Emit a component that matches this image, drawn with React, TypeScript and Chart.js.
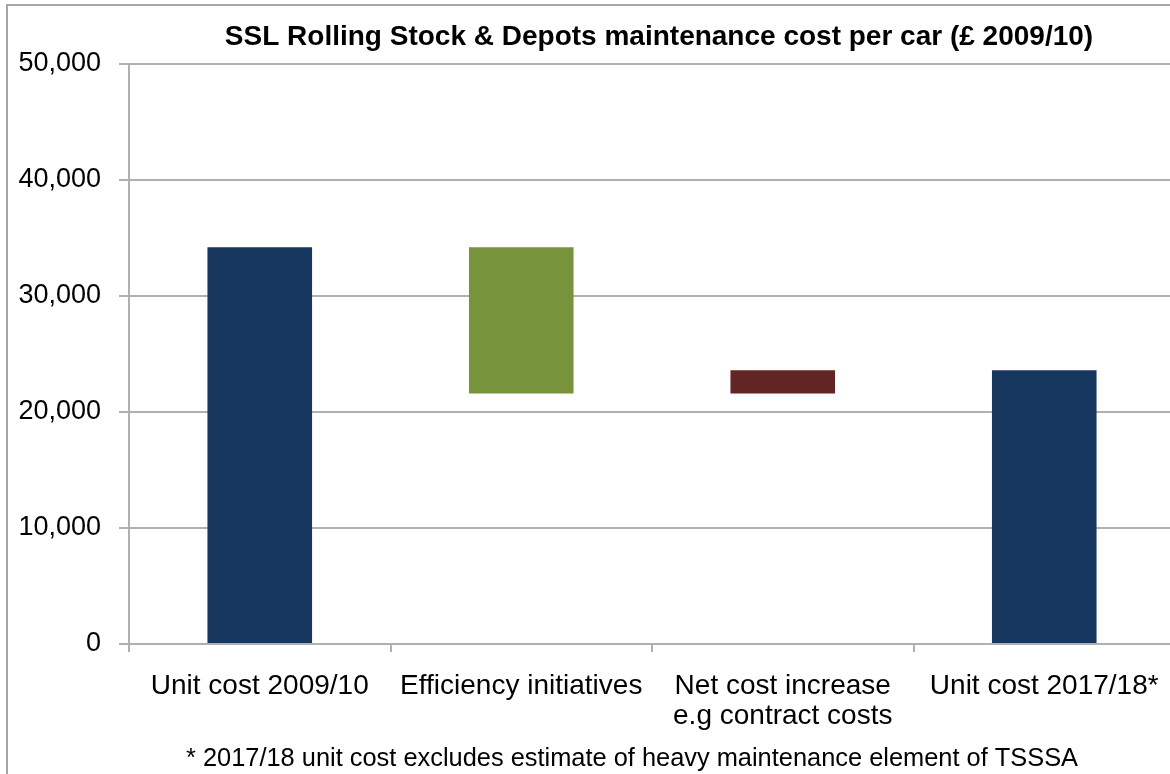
import React, { useEffect, useRef } from "react";
import { Chart, registerables } from "chart.js";

Chart.register(...registerables);

const categories: (string | string[])[] = [
  "Unit cost 2009/10",
  "Efficiency initiatives",
  ["Net cost increase", "e.g contract costs"],
  "Unit cost 2017/18*",
];
const barStarts = [0, 21600, 21600, 0];
const barEnds = [34200, 34200, 23600, 23600];
const barColors = ["#17375E", "#77933C", "#632523", "#17375E"];
const yTicks = [0, 10000, 20000, 30000, 40000, 50000];
const titleText = "SSL Rolling Stock & Depots maintenance cost per car (£ 2009/10)";
const footnoteText = "* 2017/18 unit cost excludes estimate of heavy maintenance element of TSSSA";

const FONT = "'Liberation Sans', Arial, sans-serif";
const GRID = "#b0b0b0";

const captionPlugin = {
  id: "captions",
  afterDraw(chart: any) {
    const ctx = chart.ctx;
    ctx.save();
    ctx.fillStyle = "#000";
    ctx.textAlign = "center";
    ctx.textBaseline = "middle";
    ctx.font = `bold 28px ${FONT}`;
    ctx.fillText(titleText, 659, 37);
    ctx.font = `25.4px ${FONT}`;
    ctx.fillText(footnoteText, 632, 759);
    ctx.restore();
  },
};

export default function App() {
  const ref = useRef<HTMLCanvasElement>(null);
  useEffect(() => {
    if (!ref.current) return;
    const chart = new Chart(ref.current, {
      type: "bar",
      data: {
        labels: categories as any,
        datasets: [
          {
            data: barStarts.map((s, i) => [s, barEnds[i]]) as any,
            backgroundColor: barColors,
            borderWidth: 0,
            barPercentage: 0.4,
            categoryPercentage: 1,
          },
        ],
      },
      options: {
        responsive: false,
        animation: false,
        devicePixelRatio: 1,
        layout: { padding: { top: 64, right: 5, left: 0, bottom: 0 } },
        plugins: {
          legend: { display: false },
          title: { display: false },
          tooltip: { enabled: false },
        },
        scales: {
          x: {
            grid: {
              drawOnChartArea: false,
              offset: true,
              color: GRID,
              lineWidth: 2,
              tickLength: 8,
            },
            border: { color: GRID, width: 2 },
            ticks: {
              color: "#000",
              font: { family: FONT, size: 28, lineHeight: 1.05 },
              padding: 20,
              maxRotation: 0,
              autoSkip: false,
            },
            afterFit(scale: any) {
              scale.height = 130;
            },
          },
          y: {
            min: 0,
            max: 50000,
            afterBuildTicks(scale: any) {
              scale.ticks = yTicks.map((v) => ({ value: v }));
            },
            grid: { color: GRID, lineWidth: 2, tickLength: 10 },
            border: { color: GRID, width: 2 },
            ticks: {
              color: "#000",
              font: { family: FONT, size: 27 },
              padding: 18,
              callback: (v: any) => Number(v).toLocaleString("en-US"),
            },
            afterFit(scale: any) {
              scale.width = 129;
            },
          },
        },
      },
      plugins: [captionPlugin],
    });
    return () => chart.destroy();
  }, []);

  return (
    <div
      style={{
        position: "fixed",
        left: 0,
        top: 0,
        width: 1170,
        height: 774,
        overflow: "hidden",
        background: "#fff",
      }}
    >
      <div
        style={{
          position: "absolute",
          left: 6,
          top: 4,
          width: 2000,
          height: 2000,
          borderLeft: "2px solid #a6a6a6",
          borderTop: "2px solid #a6a6a6",
        }}
      />
      <canvas
        ref={ref}
        width={1180}
        height={774}
        style={{ position: "absolute", left: 0, top: 0, width: 1180, height: 774 }}
      />
    </div>
  );
}
